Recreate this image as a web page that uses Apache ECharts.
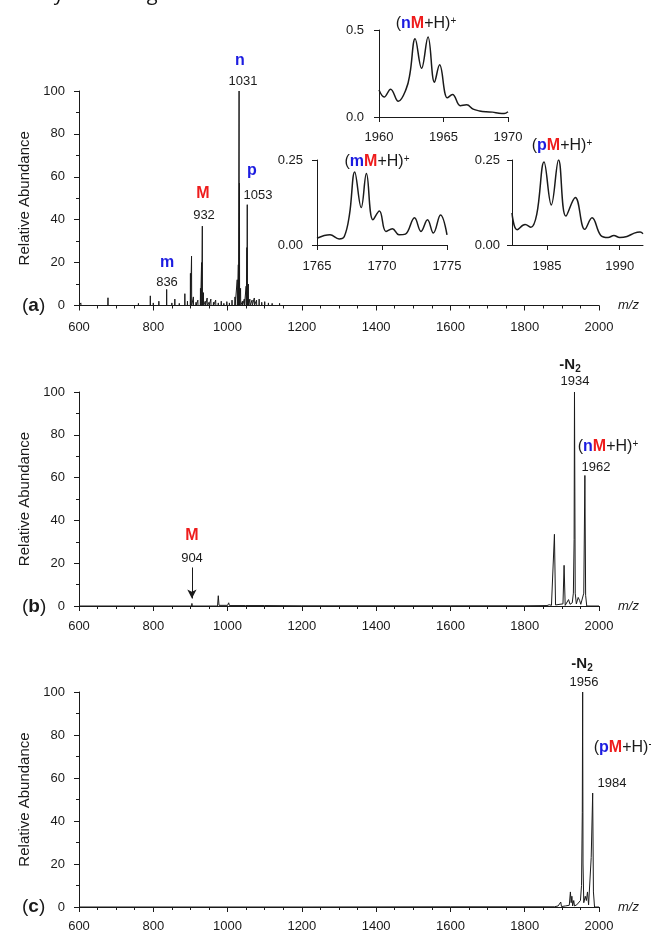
<!DOCTYPE html>
<html><head><meta charset="utf-8">
<script src="https://cdn.jsdelivr.net/npm/echarts@6/dist/echarts.min.js"></script>
<style>html,body{margin:0;padding:0;background:#fff}#c{width:651px;height:934px}</style>
</head><body><div id="c"></div>
<script>
// ---------- data ----------
const mainXTicks = [600, 800, 1000, 1200, 1400, 1600, 1800, 2000];
const mainYTicks = [0, 20, 40, 60, 80, 100];

// panel (a): stick peaks [m/z, relative abundance]
const aPeaks = [
  [605,1.2],[620,0.8],[640,0.6],[660,0.7],[678,3.6],[700,0.8],[715,0.6],[730,0.9],[745,0.7],[760,1.0],
  [775,0.6],[792,4.5],[800,1.2],[815,2.0],[836,7.5],[850,1.2],[858,3.0],[870,1.0],[885,5.5],[892,2.0],
  [900,15],[903,23],[908,4],[915,1.5],[920,2.5],[927,8],[930,20],[932,37],[935,6],[940,2],
  [945,3.5],[950,1.5],[955,3],[962,1.5],[968,2.5],[975,1.2],[983,2],[990,1],[998,1.8],[1005,1.2],
  [1012,2.5],[1020,4],[1026,12],[1029,19],[1031,100],[1032,57],[1035,8],[1040,2],[1045,3],[1050,9],
  [1052,27],[1053,47],[1056,10],[1060,3],[1066,2.5],[1072,3.5],[1078,2.5],[1085,3],[1092,1.5],[1100,1.8],
  [1110,1.2],[1120,1.0],[1130,0.8],[1140,1.0],[1155,0.6],[1170,0.5],[1185,0.6],[1200,0.5],[1220,0.4],[1250,0.3],
  [1290,0.3],[1330,0.3],[1380,0.2],[1440,0.3],[1500,0.2],[1560,0.3],[1620,0.2],[1700,0.2],[1780,0.2],[1860,0.2],[1940,0.2]
];
// panel (b): profile [m/z, relative abundance]
const bProfile = [
  [600,0],[880,0],[903,0],[904,1.2],[905,0],[973,0],[975,4.8],[977,0.3],[1000,0.3],[1003,1.5],[1005,0.2],
  [1048,0.2],[1050,0.6],[1052,0.1],[1100,0.2],[1200,0.1],[1400,0.1],[1600,0.1],[1800,0.1],[1860,0.2],
  [1866,0.6],[1872,0.3],[1877,0.6],[1880,33.5],[1883,0.5],[1895,0.8],[1900,0.3],[1903,1],[1906,19],[1909,0.3],
  [1914,1],[1918,3],[1922,0.8],[1928,1.5],[1931,6],[1933,31],[1934,100],[1936,6],[1939,1],[1944,4],
  [1948,2.5],[1951,0.8],[1955,1],[1959,6],[1962,61],[1964,5],[1967,0],[2000,0]
];
// panel (c): profile [m/z, relative abundance]
const cProfile = [
  [600,0],[1200,0],[1600,0.1],[1880,0.1],[1890,0.5],[1897,2.3],[1899,0.2],[1910,0.5],[1920,0.8],[1923,7],
  [1925,2],[1927,5],[1929,0.5],[1932,3],[1934,0.5],[1940,1],[1945,1.5],[1950,3],[1953,10],[1955,44],
  [1956,100],[1957,20],[1959,2],[1963,5],[1966,3],[1969,7],[1972,1],[1976,1],[1979,23],[1983,53],
  [1985,7],[1988,0],[2000,0]
];
// insets: isotope profiles
const nInsetMz = [1960,1960.4,1960.9,1961.5,1962.1,1962.4,1962.8,1963.3,1963.8,1964.3,1964.7,1965.3,1965.7,1966.3,1966.8,1967.3,1967.8,1968.3,1968.8,1969.3,1969.7,1970];
const nInsetAb = [0.155,0.115,0.16,0.09,0.16,0.25,0.45,0.28,0.46,0.20,0.30,0.11,0.13,0.065,0.07,0.045,0.035,0.03,0.028,0.022,0.02,0.03];
const mInsetMz = [1765,1766,1766.7,1767.1,1767.5,1767.9,1768.4,1768.8,1769.3,1769.8,1770.3,1770.8,1771.3,1771.8,1772.5,1773.0,1773.5,1773.95,1774.5,1775];
const mInsetAb = [0.02,0.03,0.018,0.025,0.09,0.215,0.11,0.21,0.074,0.10,0.04,0.048,0.03,0.032,0.08,0.04,0.074,0.035,0.088,0.03];
const pInsetMz = [1982.6,1982.95,1983.5,1983.9,1984.3,1984.8,1985.3,1985.8,1986.3,1986.95,1987.6,1988.1,1988.7,1989.2,1989.6,1990.0,1990.5,1991.0,1991.4,1991.6];
const pInsetAb = [0.094,0.045,0.06,0.052,0.09,0.244,0.118,0.25,0.085,0.14,0.046,0.08,0.028,0.022,0.028,0.022,0.025,0.035,0.038,0.033];
const nInsetXTicks = [1960, 1965, 1970];
const mInsetXTicks = [1765, 1770, 1775];
const pInsetXTicks = [1985, 1990];

// ---------- build ----------
const FAM = "'Liberation Sans', Arial, sans-serif";
const INK = '#1a1a1a';
const BLUE = '#1c1ce0';
const RED = '#ee1c1c';
const plain = v => String(v);

function sticks(peaks){
  const out = [[600,0]];
  peaks.forEach(([m,h]) => { out.push([m-0.4,0],[m,h],[m+0.4,0]); });
  out.push([2000,0]);
  return out;
}
function zip(a,b){ return a.map((v,i)=>[v,b[i]]); }

const chart = echarts.init(document.getElementById('c'), null, {renderer:'canvas'});

const mainGrids = [
  {left:79, top:91, width:520, height:214.5},
  {left:79, top:392, width:520, height:214},
  {left:79, top:692, width:520, height:215}
];
const insetGrids = [
  {left:379, top:30, width:129, height:87},
  {left:317, top:160, width:130, height:85},
  {left:512, top:160, width:131, height:85}
];

const axisLineStyle = {color:INK, width:1};
function mainX(i){
  return {gridIndex:i, type:'value', min:mainXTicks[0], max:mainXTicks[mainXTicks.length-1], interval:200,
    axisLine:{lineStyle:axisLineStyle}, axisTick:{length:5, lineStyle:axisLineStyle},
    minorTick:{show:true, splitNumber:4, length:3, lineStyle:axisLineStyle},
    splitLine:{show:false},
    axisLabel:{fontSize:13, color:INK, fontFamily:FAM, margin:[15,14,13][i], formatter:plain},
    name:'m/z', nameLocation:'end', nameGap:19,
    nameTextStyle:{fontStyle:'italic', fontSize:13, color:INK, fontFamily:FAM, padding:[12,0,0,0]}};
}
function mainY(i){
  return {gridIndex:i, type:'value', min:mainYTicks[0], max:mainYTicks[mainYTicks.length-1], interval:20,
    axisLine:{show:true, lineStyle:axisLineStyle}, axisTick:{show:true, length:5, lineStyle:axisLineStyle},
    minorTick:{show:true, splitNumber:2, length:3, lineStyle:axisLineStyle},
    splitLine:{show:false},
    axisLabel:{fontSize:13, color:INK, fontFamily:FAM, margin:14, formatter:plain},
    name:'Relative Abundance', nameLocation:'middle', nameGap:46,
    nameTextStyle:{fontSize:15, color:INK, fontFamily:FAM}};
}
function insetX(gi, min, max, ticks, margin){
  return {gridIndex:gi, type:'value', min, max,
    axisLine:{lineStyle:axisLineStyle},
    axisTick:{length:5, lineStyle:axisLineStyle, customValues:ticks},
    axisLabel:{fontSize:13, color:INK, fontFamily:FAM, margin, customValues:ticks, formatter:plain},
    splitLine:{show:false}};
}
function insetY(gi, max, digits, margin){
  return {gridIndex:gi, type:'value', min:0, max, interval:max,
    axisLine:{show:true, lineStyle:axisLineStyle}, axisTick:{show:true, length:5, lineStyle:axisLineStyle},
    axisLabel:{fontSize:13, color:INK, fontFamily:FAM, margin, formatter:v=>v.toFixed(digits)},
    splitLine:{show:false}};
}

const lineBase = {type:'line', symbol:'none', silent:true, animation:false};

const series = [
  Object.assign({}, lineBase, {xAxisIndex:0, yAxisIndex:0, data:sticks(aPeaks), lineStyle:{color:INK, width:1}}),
  Object.assign({}, lineBase, {xAxisIndex:1, yAxisIndex:1, data:bProfile, lineStyle:{color:INK, width:1},
    markLine:{silent:true, symbol:['none','arrow'], symbolSize:[7,9], label:{show:false},
      lineStyle:{color:INK, width:1, type:'solid'},
      data:[[{coord:[904,18]},{coord:[904,3.5]}]]}}),
  Object.assign({}, lineBase, {xAxisIndex:2, yAxisIndex:2, data:cProfile, lineStyle:{color:INK, width:1}}),
  Object.assign({}, lineBase, {xAxisIndex:3, yAxisIndex:3, data:zip(nInsetMz,nInsetAb), smooth:0.4, lineStyle:{color:INK, width:1.5}}),
  Object.assign({}, lineBase, {xAxisIndex:4, yAxisIndex:4, data:zip(mInsetMz,mInsetAb), smooth:0.4, lineStyle:{color:INK, width:1.5}}),
  Object.assign({}, lineBase, {xAxisIndex:5, yAxisIndex:5, data:zip(pInsetMz,pInsetAb), smooth:0.4, lineStyle:{color:INK, width:1.5}})
];

// ---------- annotations (text) ----------
const rich = {
  t:{fontSize:16, fontFamily:FAM, fill:INK, color:INK},
  n:{fontSize:16, fontFamily:FAM, fontWeight:'bold', fill:BLUE, color:BLUE},
  r:{fontSize:16, fontFamily:FAM, fontWeight:'bold', fill:RED, color:RED},
  s:{fontSize:10, fontFamily:FAM, fill:INK, color:INK, verticalAlign:'top', lineHeight:12},
  b:{fontSize:15, fontFamily:FAM, fontWeight:'bold', fill:INK, color:INK},
  sub:{fontSize:10, fontFamily:FAM, fontWeight:'bold', fill:INK, color:INK, verticalAlign:'bottom', padding:[8,0,0,0]},
  v:{fontSize:13, fontFamily:FAM, fill:INK, color:INK},
  pp:{fontSize:19, fontFamily:FAM, fill:INK, color:INK},
  pl:{fontSize:19, fontFamily:FAM, fontWeight:'bold', fill:INK, color:INK}
};
function T(x, y, text, align){
  return {type:'text', x, y, z:100, silent:true,
    style:{text, rich, align:align||'center', verticalAlign:'middle', font:`13px ${FAM}`, fill:INK}};
}
const ion = (ch) => `{t|(}{n|${ch}}{r|M}{t|+H)}{s|+}`;
const annotations = [
  // panel a
  T(240, 61, '{n|n}'), T(243, 81, '{v|1031}'),
  T(203, 194, '{r|M}'), T(204, 215, '{v|932}'),
  T(252, 171, '{n|p}'), T(258, 195, '{v|1053}'),
  T(167, 263, '{n|m}'), T(167, 282, '{v|836}'),
  T(426, 24, ion('n')), T(377, 162, ion('m')), T(562, 146, ion('p')),
  // panel b
  T(192, 536, '{r|M}'), T(192, 558, '{v|904}'),
  T(570, 365, '{b|-N}{sub|2}'), T(575, 381, '{v|1934}'),
  T(608, 447, ion('n')), T(596, 467, '{v|1962}'),
  // panel c
  T(582, 664, '{b|-N}{sub|2}'), T(584, 682, '{v|1956}'),
  T(624, 748, ion('p')), T(612, 783, '{v|1984}'),
  // panel letters
  T(22, 306, '{pp|(}{pl|a}{pp|)}', 'left'),
  T(22, 607, '{pp|(}{pl|b}{pp|)}', 'left'),
  T(22, 907, '{pp|(}{pl|c}{pp|)}', 'left'),
  // cut caption at top
  {type:'text', x:2, y:4, z:100, silent:true,
    style:{text:'and Tyr-6 analogs.', font:`20px 'Open Sans', ${FAM}`, fill:'#111', align:'left', verticalAlign:'bottom'}}
];

chart.setOption({
  animation:false,
  backgroundColor:'#fff',
  grid: mainGrids.concat(insetGrids),
  xAxis: [mainX(0), mainX(1), mainX(2),
    insetX(3, 1960, 1970, nInsetXTicks, 14),
    insetX(4, 1765, 1775, mInsetXTicks, 15),
    insetX(5, 1982.6, 1991.6, pInsetXTicks, 15)],
  yAxis: [mainY(0), mainY(1), mainY(2),
    insetY(3, 0.5, 1, 15),
    insetY(4, 0.25, 2, 14),
    insetY(5, 0.25, 2, 12)],
  series,
  graphic: annotations
});
</script>
</body></html>
